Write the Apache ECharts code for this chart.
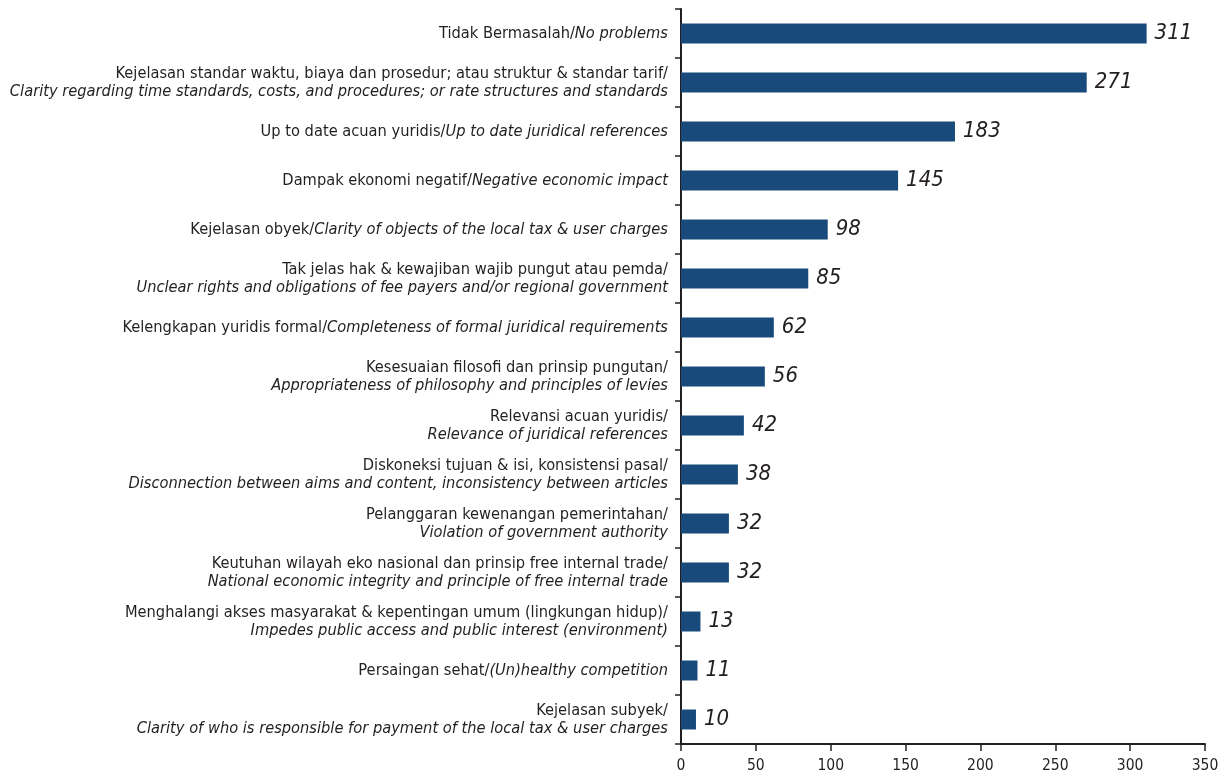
<!DOCTYPE html>
<html>
<head>
<meta charset="utf-8">
<script src="https://cdn.jsdelivr.net/npm/echarts@6/dist/echarts.min.js"></script>
<style>
  html, body { margin: 0; padding: 0; background: #fff; }
  #chart { width: 1224px; height: 774px; }
</style>
</head>
<body>
<div id="chart"></div>
<script>
// label bahasa (normal) + label english (italic)
var labelId = [
  'Tidak Bermasalah/',
  'Kejelasan standar waktu, biaya dan prosedur; atau struktur & standar tarif/',
  'Up to date acuan yuridis/',
  'Dampak ekonomi negatif/',
  'Kejelasan obyek/',
  'Tak jelas hak & kewajiban wajib pungut atau pemda/',
  'Kelengkapan yuridis formal/',
  'Kesesuaian filosofi dan prinsip pungutan/',
  'Relevansi acuan yuridis/',
  'Diskoneksi tujuan & isi, konsistensi pasal/',
  'Pelanggaran kewenangan pemerintahan/',
  'Keutuhan wilayah eko nasional dan prinsip free internal trade/',
  'Menghalangi akses masyarakat & kepentingan umum (lingkungan hidup)/',
  'Persaingan sehat/',
  'Kejelasan subyek/'
]
var labelEn = [
  'No problems',
  'Clarity regarding time standards, costs, and procedures; or rate structures and standards',
  'Up to date juridical references',
  'Negative economic impact',
  'Clarity of objects of the local tax & user charges',
  'Unclear rights and obligations of fee payers and/or regional government',
  'Completeness of formal juridical requirements',
  'Appropriateness of philosophy and principles of levies',
  'Relevance of juridical references',
  'Disconnection between aims and content, inconsistency between articles',
  'Violation of government authority',
  'National economic integrity and principle of free internal trade',
  'Impedes public access and public interest (environment)',
  '(Un)healthy competition',
  'Clarity of who is responsible for payment of the local tax & user charges'
]
var twoLine = [false, true, false, false, false, true, false, true, true, true, true, true, true, false, true]
var values = [311, 271, 183, 145, 98, 85, 62, 56, 42, 38, 32, 32, 13, 11, 10]
var xTicks = [0, 50, 100, 150, 200, 250, 300, 350]

var font = '"DejaVu Sans Condensed", sans-serif'
var ink = '#231f20'

var chart = echarts.init(document.getElementById('chart'))
chart.setOption({
  animation: false,
  grid: {
    left: 681,
    right: 19,
    top: 9,
    bottom: 28,
    containLabel: false
  },
  xAxis: {
    type: 'value',
    min: xTicks[0],
    max: xTicks[xTicks.length - 1],
    interval: 50,
    splitLine: { show: false },
    axisLine: { show: true, lineStyle: { color: ink, width: 2 } },
    axisTick: { show: true, length: 7, lineStyle: { color: ink, width: 1.5 } },
    axisLabel: { color: ink, fontFamily: font, fontSize: 15.5, margin: 14 }
  },
  yAxis: {
    type: 'category',
    inverse: true,
    data: labelId.map(function (s, i) { return i }),
    axisLine: { show: true, lineStyle: { color: ink, width: 2 } },
    axisTick: { show: true, length: 6, lineStyle: { color: ink, width: 1.5 } },
    axisLabel: {
      margin: 13,
      lineHeight: 18,
      formatter: function (v, i) {
        if (twoLine[i]) {
          return '{n|' + labelId[i] + '}\n{it|' + labelEn[i] + '}'
        }
        return '{n|' + labelId[i] + '}{it|' + labelEn[i] + '}'
      },
      rich: {
        n: { color: ink, fontFamily: font, fontSize: 16.3, lineHeight: 18 },
        it: { color: ink, fontFamily: font, fontSize: 16.3, fontStyle: 'italic', lineHeight: 18 }
      }
    }
  },
  series: [{
    type: 'bar',
    data: values,
    barWidth: 20,
    itemStyle: { color: '#184a7b' },
    label: {
      show: true,
      position: 'right',
      distance: 8,
      color: ink,
      fontFamily: font,
      fontStyle: 'italic',
      fontSize: 22
    }
  }]
})
</script>
</body>
</html>
